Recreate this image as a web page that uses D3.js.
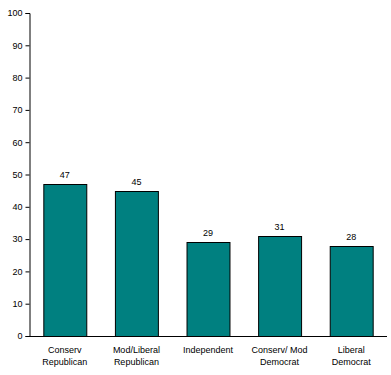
<!DOCTYPE html>
<html>
<head>
<meta charset="utf-8">
<script src="https://d3js.org/d3.v7.min.js"></script>
<style>
  body {margin: 0; background: #fff;}
  text {font-family: "Liberation Sans", Arial, sans-serif; font-size: 9px; fill: #000;}
</style>
</head>
<body>
<script>
// chart data
const categories = [["Conserv", "Republican"], ["Mod/Liberal", "Republican"], ["Independent"], ["Conserv/ Mod", "Democrat"], ["Liberal", "Democrat"]];
const values = [47, 45, 29, 31, 28];
const yTicks = [0, 10, 20, 30, 40, 50, 60, 70, 80, 90, 100];

const width = 391, height = 375;
const margin = {left: 29, right: 4, top: 13, bottom: 39};

const svg = d3.select("body").append("svg")
  .attr("width", width)
  .attr("height", height);

const x = d3.scaleBand()
  .domain(d3.range(values.length))
  .range([margin.left, width - margin.right])
  .paddingInner(0.4)
  .paddingOuter(0.2);

const y = d3.scaleLinear()
  .domain([0, 100])
  .range([height - margin.bottom, margin.top]);

// bars
svg.selectAll("rect.bar")
  .data(values)
  .join("rect")
  .attr("class", "bar")
  .attr("x", (d, i) => x(i) + 0.5)
  .attr("y", d => Math.round(y(d)) + 0.5)
  .attr("width", x.bandwidth())
  .attr("height", d => y(0) - Math.round(y(d)))
  .attr("fill", "#008080")
  .attr("stroke", "#000")
  .attr("stroke-width", 1);

// value labels
svg.selectAll("text.val")
  .data(values)
  .join("text")
  .attr("class", "val")
  .attr("x", (d, i) => x(i) + x.bandwidth() / 2)
  .attr("y", d => y(d) - 6)
  .attr("text-anchor", "middle")
  .text(d => d);

// y axis
const yAxis = svg.append("g")
  .attr("transform", `translate(${margin.left + 0.5},0)`)
  .call(d3.axisLeft(y).tickValues(yTicks).tickSize(4).tickPadding(3));
yAxis.selectAll("path, line").attr("stroke", "#000");
yAxis.selectAll("text").style("font-size", "9px").attr("font-family", null);

// x axis line
svg.append("line")
  .attr("x1", margin.left)
  .attr("x2", width - margin.right)
  .attr("y1", y(0) + 0.5)
  .attr("y2", y(0) + 0.5)
  .attr("stroke", "#000");

// category labels
const labels = svg.selectAll("text.cat")
  .data(categories)
  .join("text")
  .attr("class", "cat")
  .attr("text-anchor", "middle")
  .attr("y", y(0) + 17);
labels.selectAll("tspan")
  .data(d => d)
  .join("tspan")
  .attr("x", function() { return x(categories.indexOf(this.parentNode.__data__)) + x.bandwidth() / 2; })
  .attr("dy", (d, i) => i === 0 ? 0 : 12)
  .text(d => d);
</script>
</body>
</html>
